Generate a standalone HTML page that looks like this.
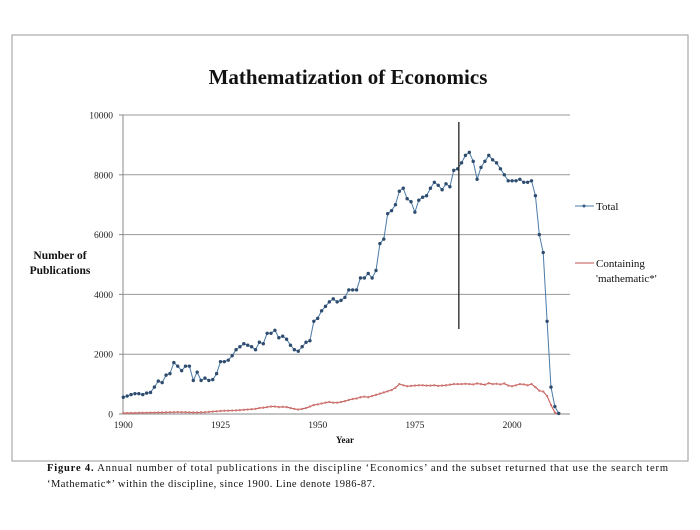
<!DOCTYPE html>
<html><head><meta charset="utf-8"><style>
body{margin:0;background:#fff;width:700px;height:525px;overflow:hidden;font-family:"Liberation Serif",serif}
</style></head><body>
<svg width="700" height="525" font-family="Liberation Serif, serif">
<rect x="12" y="35" width="676" height="426" fill="#fff" stroke="#aaa" stroke-width="1.2"/>
<text x="348" y="84" text-anchor="middle" font-size="21" font-weight="bold" fill="#111">Mathematization  of Economics</text>
<g id="grid"></g>
<g id="axes"></g>
<g id="series"></g>
<text x="60" y="259" text-anchor="middle" font-size="11.5" font-weight="bold" fill="#111"><tspan x="60">Number of</tspan><tspan x="60" dy="15">Publications</tspan></text>
<text x="345" y="443" text-anchor="middle" font-size="9" font-weight="bold" fill="#111">Year</text>
<g>
<line x1="575" y1="206" x2="594" y2="206" stroke="#4a7aa8" stroke-width="1"/><circle cx="584" cy="206" r="1.5" fill="#3a5a80"/>
<text x="596" y="210" font-size="11" fill="#111">Total</text></g>
<g>
<line x1="575" y1="263" x2="594" y2="263" stroke="#c0504d" stroke-width="1"/>
<text x="596" y="267" font-size="11" fill="#111">Containing</text>
<text x="596" y="282" font-size="11" fill="#111">'mathematic*'</text></g>
<text x="47" y="471" font-size="10.5" fill="#111" textLength="621" lengthAdjust="spacing"><tspan font-weight="bold">Figure 4.</tspan> Annual number of total publications in the discipline ‘Economics’ and the subset returned that use the search term</text>
<text x="47" y="487" font-size="10.5" fill="#111" textLength="328" lengthAdjust="spacing">‘Mathematic*’ within the discipline, since 1900. Line denote 1986-87.</text>
</svg>
<script>
const years=[];for(let y=1900;y<=2012;y++)years.push(y);
const totalValues=[560,600,650,680,680,650,700,720,900,1100,1050,1300,1350,1720,1600,1450,1600,1600,1120,1400,1120,1200,1120,1150,1350,1750,1750,1800,1950,2150,2250,2350,2300,2250,2150,2400,2350,2700,2700,2800,2550,2600,2500,2300,2150,2100,2250,2400,2450,3100,3200,3450,3600,3750,3850,3750,3800,3900,4150,4150,4150,4550,4550,4700,4550,4800,5700,5850,6700,6800,7000,7450,7550,7200,7100,6750,7150,7250,7300,7550,7750,7650,7500,7700,7600,8150,8200,8400,8650,8750,8450,7850,8250,8450,8650,8500,8400,8200,8000,7800,7800,7800,7850,7750,7750,7800,7300,6000,5400,3100,900,250,20];
const mathValues=[30,30,35,35,40,40,40,45,45,50,50,55,60,60,65,60,60,55,50,50,55,60,70,80,90,100,110,110,115,120,130,140,150,160,170,200,210,230,250,250,230,240,230,200,170,150,170,200,250,300,320,350,380,400,380,380,400,430,470,500,520,560,580,560,600,640,680,720,760,800,880,1000,960,930,940,950,960,960,950,950,960,940,950,960,980,1000,1000,1000,1010,1000,990,1020,1000,980,1030,1000,1010,990,1020,950,930,960,1000,990,960,1000,900,780,750,600,300,50,0];
const yTicks=[0,2000,4000,6000,8000,10000];
const xTicks=[1900,1925,1950,1975,2000];
const markerYear=1986.3;
const X=y=>123.3+(y-1900)*(97.2/25);
const Y=v=>414-v*(299/10000);
const NS='http://www.w3.org/2000/svg';
function mk(tag,attrs,parent){const e=document.createElementNS(NS,tag);for(const k in attrs)e.setAttribute(k,attrs[k]);document.getElementById(parent).appendChild(e);return e;}
yTicks.forEach(t=>{
 if(t>0){const g=mk('line',{x1:123,x2:570,y1:Y(t),y2:Y(t),stroke:'#999','stroke-width':1},'grid');
 
 }
 const tx=mk('text',{x:113,y:Y(t)+3.5,'text-anchor':'end','font-size':9.5,fill:'#222'},'axes');tx.textContent=t;
 
 
 mk('line',{x1:119,x2:123,y1:Y(t),y2:Y(t),stroke:'#888'},'axes');
});
mk('line',{x1:123,x2:123,y1:Y(10000),y2:414,stroke:'#888'},'axes');
mk('line',{x1:123,x2:570,y1:414,y2:414,stroke:'#888'},'axes');
xTicks.forEach(t=>{const tx=mk('text',{x:X(t),y:428,'text-anchor':'middle','font-size':9.5,fill:'#222'},'axes');tx.textContent=t;
 
 });
function line(vals,color,name){
 const p=mk('polyline',{points:vals.map((v,i)=>X(years[i])+','+Y(v)).join(' '),fill:'none',stroke:color,'stroke-width':1},'series');
 
 
}
line(mathValues,'#c0504d','math-series-line');
mathValues.forEach((v,i)=>{const c=mk('circle',{cx:X(years[i]),cy:Y(v),r:1.2,fill:'#d07a78'},'series');
 
 });
line(totalValues,'#4a7aa8','total-series-line');
totalValues.forEach((v,i)=>{const c=mk('circle',{cx:X(years[i]),cy:Y(v),r:1.7,fill:'#2f4c6e'},'series');
 
 });
const vl=mk('line',{x1:X(markerYear),x2:X(markerYear),y1:122,y2:329,stroke:'#222','stroke-width':1.3},'series');


</script>
</body></html>
